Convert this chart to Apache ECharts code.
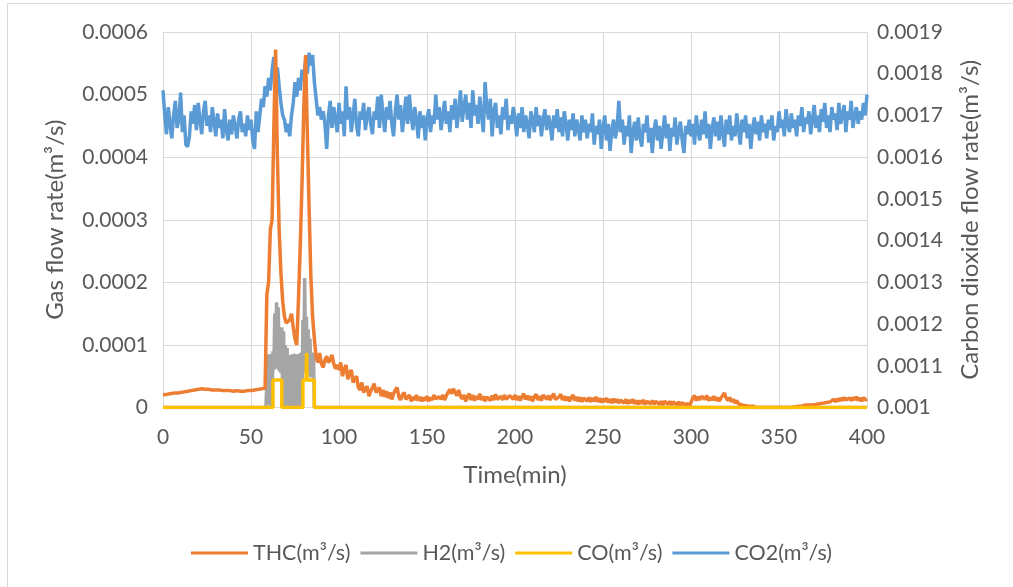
<!DOCTYPE html>
<html><head><meta charset="utf-8">
<script src="https://cdn.jsdelivr.net/npm/echarts@6/dist/echarts.min.js"></script>
<style>html,body{margin:0;padding:0;background:#fff}#c{width:1013px;height:587px}</style>
</head><body><div id="c"></div><script>
// All gas flow values below are in units of 1e-6 m³/s
// THC, one value per minute, t = 0..400
const thc = [
20,21,21,22,22,22,23,23,23,24,24,25,25,26,26,27,27,28,28,29,
29,29,30,30,29,29,29,28,28,28,28,27,28,27,27,27,27,26,27,26,
26,26,27,26,26,26,26,27,27,27,27,28,28,28,29,29,30,30,31,180,
200,285,300,450,572,400,284,215,170,145,135,133,140,150,128,110,100,175,260,360,
480,563,440,320,210,145,110,80,72,87,70,64,76,82,72,76,84,70,62,68,
60,72,50,62,68,45,56,60,40,46,50,32,28,40,24,30,34,18,26,32,
38,24,28,32,18,28,17,26,15,24,13,22,28,32,17,12,20,24,13,15,
20,10,17,12,20,11,17,10,16,11,18,10,16,12,20,14,11,17,13,20,
12,19,24,29,22,30,24,19,28,18,14,20,10,17,22,12,20,11,18,13,
22,12,18,10,17,20,11,19,12,21,13,10,18,12,20,13,11,19,22,13,
20,12,18,11,17,22,13,19,12,18,10,17,21,12,18,11,20,23,13,19,
12,18,22,13,10,17,21,12,18,11,17,10,16,20,11,17,10,16,9,15,
18,10,16,9,15,10,17,9,15,8,14,9,15,8,13,7,14,8,13,7,
12,14,7,13,6,12,7,13,6,11,5,11,6,12,5,10,13,6,11,5,
10,12,5,10,4,10,12,5,10,4,9,11,4,9,3,8,10,3,7,2,
8,15,19,11,17,12,18,21,13,19,11,16,12,18,11,16,10,15,19,23,
15,11,16,9,13,7,11,6,9,4,7,3,6,2,4,2,1,0,0,0,
0,0,0,0,0,0,0,0,0,0,0,0,0,0,0,0,0,0,1,1,
2,2,3,2,3,4,3,4,5,4,6,5,7,6,8,7,9,8,10,9,
11,13,9,14,10,15,11,16,12,10,15,11,16,12,17,11,15,10,16,12,
14];
// H2: zero outside 59..87 min; inside sampled every 0.5 min starting at 59
const h2Start = 59, h2Step = 0.5;
const h2 = [0,85,5,82,0,86,10,90,60,150,70,168,62,160,58,125,55,128,0,122,5,100,0,95,0,84,0,82,3,85,0,86,4,83,0,85,2,86,0,88,0,140,55,207,60,145,52,125,50,110,48,88,50,87,0,0,0];
// CO: step pulses (time, value) pairs
const coTime = [0,62.5,62.5,67.5,67.5,79.5,79.5,81.3,81.6,81.9,86,86,400];
const coVal  = [0,0,44,44,0,0,44,44,87,44,44,0,0];
// CO2, one value per minute, t = 0..400
const co2 = [
1760,1700,1655,1720,1680,1645,1700,1735,1670,1690,1755,1660,1700,1630,1625,1650,1710,1680,1725,1665,
1730,1690,1655,1710,1735,1675,1700,1660,1720,1685,1650,1705,1670,1690,1645,1715,1665,1640,1690,1655,
1700,1675,1645,1690,1710,1660,1680,1650,1700,1665,1690,1640,1620,1710,1660,1700,1740,1720,1770,1745,
1790,1760,1810,1840,1780,1815,1770,1730,1700,1690,1660,1680,1650,1700,1730,1780,1745,1790,1760,1810,
1790,1830,1800,1850,1820,1845,1780,1740,1700,1720,1690,1710,1680,1620,1700,1735,1670,1720,1690,1660,
1730,1680,1710,1650,1770,1690,1720,1660,1700,1740,1675,1650,1710,1690,1730,1665,1700,1720,1680,1655,
1710,1690,1745,1670,1750,1700,1660,1720,1690,1735,1680,1650,1710,1750,1690,1725,1660,1700,1745,1680,
1750,1700,1665,1720,1690,1645,1710,1670,1700,1640,1690,1715,1660,1700,1680,1750,1690,1720,1665,1700,
1735,1680,1710,1660,1725,1690,1740,1670,1710,1760,1685,1720,1750,1690,1730,1670,1760,1700,1725,1680,
1745,1700,1660,1780,1720,1690,1740,1650,1710,1730,1670,1700,1655,1720,1690,1740,1665,1700,1680,1720,
1690,1650,1705,1670,1720,1660,1700,1680,1645,1710,1690,1660,1720,1675,1700,1650,1690,1715,1665,1700,
1680,1640,1700,1670,1715,1660,1695,1650,1710,1680,1640,1690,1665,1705,1650,1690,1670,1640,1700,1660,
1690,1645,1680,1660,1705,1630,1675,1655,1690,1620,1670,1700,1640,1680,1615,1665,1690,1645,1670,1735,
1660,1690,1630,1675,1650,1700,1610,1660,1685,1640,1695,1650,1625,1680,1660,1700,1635,1670,1610,1665,
1690,1640,1675,1620,1660,1700,1645,1680,1615,1670,1650,1695,1630,1665,1685,1640,1610,1675,1655,1690,
1650,1680,1630,1700,1660,1640,1690,1655,1710,1645,1680,1620,1670,1695,1650,1685,1640,1700,1660,1625,
1690,1655,1700,1640,1675,1650,1705,1665,1630,1690,1660,1700,1645,1680,1620,1670,1695,1655,1685,1640,
1700,1660,1680,1645,1690,1665,1700,1640,1675,1660,1710,1670,1690,1650,1715,1680,1660,1705,1670,1690,
1650,1700,1675,1720,1660,1695,1680,1710,1655,1690,1725,1670,1700,1660,1715,1685,1730,1670,1700,1660,
1720,1690,1705,1665,1730,1680,1700,1725,1660,1710,1690,1735,1670,1700,1720,1680,1710,1690,1730,1700,
1750];
const seriesNames = ['THC(m³/s)','H2(m³/s)','CO(m³/s)','CO2(m³/s)'];
const colors = {THC:'#ED7D31', H2:'#A5A5A5', CO:'#FFC000', CO2:'#5B9BD5'};

const perMinute = arr => arr.map((v,i)=>[i,v]);
const h2Data = [[0,0],[h2Start-0.5,0]].concat(h2.map((v,i)=>[h2Start+i*h2Step,v])).concat([[400,0]]);
const coData = coTime.map((t,i)=>[t,coVal[i]]);

const FONT = 'Lato';
const TXT = '#595959';
const fmt = v => v===0 ? '0' : String(Number((v/1e6).toFixed(4)));

const chart = echarts.init(document.getElementById('c'), null, {renderer:'canvas'});
chart.setOption({
  animation:false,
  backgroundColor:'#fff',
  textStyle:{fontFamily:FONT, color:TXT},
  graphic:[{type:'rect', shape:{x:7.5,y:3.5,width:1200,height:800}, style:{fill:'none', stroke:'#D9D9D9', lineWidth:1}, silent:true}],
  grid:{left:163, right:146, top:32, bottom:179.5, containLabel:false},
  legend:{
    data:seriesNames, left:186, top:537, icon:'rect', itemWidth:57, itemHeight:3, itemGap:10,
    textStyle:{fontFamily:FONT, fontSize:21.5, color:TXT}
  },
  xAxis:{
    type:'value', min:0, max:400, interval:50,
    name:'Time(min)', nameLocation:'middle', nameGap:56,
    nameTextStyle:{fontFamily:FONT, fontSize:24, color:TXT},
    axisLine:{show:false}, axisTick:{show:false},
    axisLabel:{fontFamily:FONT, fontSize:21, color:TXT, margin:19},
    splitLine:{show:true, lineStyle:{color:'#D9D9D9', width:1}}
  },
  yAxis:[{
    type:'value', min:0, max:600, interval:100, position:'left',
    name:'Gas flow rate(m³/s)', nameLocation:'middle', nameRotate:90, nameGap:96,
    nameTextStyle:{fontFamily:FONT, fontSize:24, color:TXT},
    axisLine:{show:false}, axisTick:{show:false},
    axisLabel:{fontFamily:FONT, fontSize:21, color:TXT, margin:15, formatter:fmt},
    splitLine:{show:true, lineStyle:{color:'#D9D9D9', width:1}}
  },{
    type:'value', min:1000, max:1900, interval:100, position:'right',
    name:'Carbon dioxide flow rate(m³/s)', nameLocation:'middle', nameRotate:90, nameGap:91,
    nameTextStyle:{fontFamily:FONT, fontSize:24, color:TXT},
    axisLine:{show:false}, axisTick:{show:false},
    axisLabel:{fontFamily:FONT, fontSize:21, color:TXT, margin:10, formatter:fmt},
    splitLine:{show:false}
  }],
  series:[
    {name:seriesNames[3], type:'line', yAxisIndex:1, data:perMinute(co2), showSymbol:false, symbol:'none',
     lineStyle:{color:colors.CO2, width:3.5}, itemStyle:{color:colors.CO2}},
    {name:seriesNames[1], type:'line', yAxisIndex:0, data:h2Data, showSymbol:false, symbol:'none',
     lineStyle:{color:colors.H2, width:3.5}, itemStyle:{color:colors.H2}},
    {name:seriesNames[0], type:'line', yAxisIndex:0, data:perMinute(thc), showSymbol:false, symbol:'none',
     lineStyle:{color:colors.THC, width:3.5}, itemStyle:{color:colors.THC}},
    {name:seriesNames[2], type:'line', yAxisIndex:0, data:coData, showSymbol:false, symbol:'none',
     lineStyle:{color:colors.CO, width:3.5}, itemStyle:{color:colors.CO}}
  ]
});
</script></body></html>
